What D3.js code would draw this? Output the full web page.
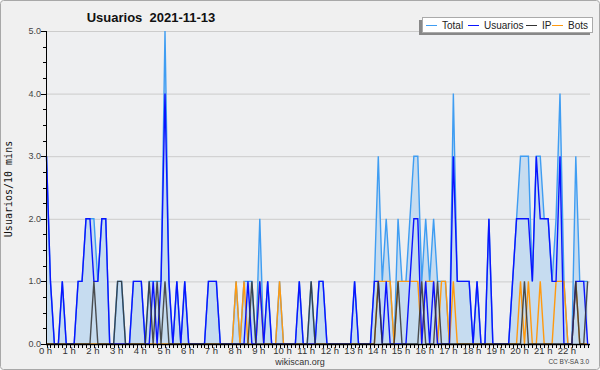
<!DOCTYPE html>
<html><head><meta charset="utf-8">
<script src="https://cdn.jsdelivr.net/npm/d3@7"></script>
<style>body{margin:0;background:#fff}svg{display:block}</style>
</head><body>
<svg id="c" width="600" height="370"></svg>
<script>
// 10-minute slots from 0:00 onwards
const total = [
  3,1,0,0,1,0,0,0,1,1, 2,2,2,1,2,2,0,0,1,1, 0,0,1,1,1,0,1,1,1,1, 5,1,0,1,0,1,0,0,0,0,
  0,1,1,1,0,0,0,0,1,0, 1,1,1,0,2,0,1,0,0,1, 0,0,0,0,1,0,0,1,0,1, 1,0,0,0,0,0,0,0,1,0,
  0,0,0,1,3,1,2,1,0,2, 1,1,2,3,3,1,2,1,2,1, 1,1,0,4,1,1,1,1,0,1, 0,0,2,0,0,0,0,0,1,2,
  3,3,3,1,3,3,2,2,1,2, 4,1,0,0,3,1,1,1];
const usuarios = [
  3,1,0,0,1,0,0,0,1,1, 2,2,1,1,2,2,0,0,0,0, 0,0,1,1,1,0,0,1,0,1, 4,1,0,1,0,1,0,0,0,0,
  0,1,1,1,0,0,0,0,0,0, 0,1,0,0,1,0,1,0,0,0, 0,0,0,0,1,0,0,0,0,1, 1,0,0,0,0,0,0,0,1,0,
  0,0,0,1,1,0,1,0,0,0, 0,0,1,2,2,0,1,0,1,0, 0,0,0,3,1,1,1,1,0,1, 0,0,2,0,0,0,0,0,1,2,
  2,2,2,1,3,2,2,2,1,1, 3,0,0,0,1,1,1,0];
const ip = [
  0,0,0,0,0,0,0,0,0,0, 0,0,1,0,0,0,0,0,1,1, 0,0,0,0,0,0,1,0,1,0, 1,0,0,0,0,0,0,0,0,0,
  0,0,0,0,0,0,0,0,0,0, 0,0,1,0,0,0,0,0,0,0, 0,0,0,0,0,0,0,1,0,0, 0,0,0,0,0,0,0,0,0,0,
  0,0,0,0,1,0,0,0,0,1, 0,0,0,0,0,1,0,0,0,1, 0,0,0,0,0,0,0,0,0,0, 0,0,0,0,0,0,0,0,0,0,
  0,1,0,0,0,0,0,0,0,0, 0,0,0,0,1,0,0,1];
const bots = [
  0,0,0,0,0,0,0,0,0,0, 0,0,0,0,0,0,0,0,0,0, 0,0,0,0,0,0,0,0,0,0, 0,0,0,0,0,0,0,0,0,0,
  0,0,0,0,0,0,0,0,1,0, 1,0,0,0,1,0,0,0,0,1, 0,0,0,0,0,0,0,0,0,0, 0,0,0,0,0,0,0,0,0,0,
  0,0,0,0,1,1,1,1,0,1, 1,1,1,1,1,0,1,1,1,0, 1,1,0,1,0,0,0,0,0,0, 0,0,0,0,0,0,0,0,0,0,
  1,0,1,0,0,1,0,0,0,1, 1,1,0,0,1,0,0,0];
const hourLabels = ["0 h","1 h","2 h","3 h","4 h","5 h","6 h","7 h","8 h","9 h","10 h","11 h","12 h","13 h","14 h","15 h","16 h","17 h","18 h","19 h","20 h","21 h","22 h"];
const yTicks = [0,1,2,3,4,5];
const seriesNames = ["Total","Usuarios","IP","Bots"];
const seriesColors = ["#3f9df2","#0a14ff","#333333","#ff9a10"];

const svg = d3.select("#c");
const W=600,H=370, L=46, R=590, T=31, B=344;
const SANS = "Liberation Sans, Arial, sans-serif";
svg.append("rect").attr("x",0.5).attr("y",0.5).attr("width",W-1).attr("height",H-1).attr("rx",3)
  .attr("fill","#f0f0f0").attr("stroke","#a8a8a8");
svg.append("rect").attr("x",L).attr("y",T).attr("width",R-L).attr("height",B-T).attr("fill","#eeeff1");

const n = total.length;
const step = 3.95; // px per 10-minute slot
const x = d3.scaleLinear().domain([0,n-1]).range([L+0.5, L+0.5+(n-1)*step]);
const y = d3.scaleLinear().domain([0,5]).range([B,T]);

// grid
svg.append("g").selectAll("line").data(yTicks.filter(d=>d>0)).join("line")
  .attr("x1",L).attr("x2",R).attr("y1",d=>y(d)+0.5).attr("y2",d=>y(d)+0.5)
  .attr("stroke","#cccccc").attr("stroke-width",1);

// area under total
const idx = d3.range(n);
svg.append("path").datum(idx)
  .attr("d", d3.area().x(i=>x(i)).y0(B).y1(i=>y(total[i])))
  .attr("fill","#c6dcf0");

const line = arr => d3.line().x(i=>x(i)).y(i=>y(arr[i]))(idx);
const draw = [[total,0],[bots,3],[usuarios,1],[ip,2]];
draw.forEach(([arr,k])=>{
  svg.append("path").attr("d",line(arr)).attr("fill","none")
    .attr("stroke",seriesColors[k]).attr("stroke-width",1.4).attr("stroke-linejoin","miter")
    .attr("stroke-opacity", k===2?0.85:1);
});

// axes
const gy = svg.append("g").attr("transform",`translate(${L},0)`);
gy.selectAll("line.t").data(d3.range(0,5.001,0.25)).join("line")
  .attr("x1",d=>Number.isInteger(d)?-5:-3).attr("x2",0)
  .attr("y1",d=>Math.round(y(d))+0.5).attr("y2",d=>Math.round(y(d))+0.5).attr("stroke","#000");
gy.selectAll("text").data(yTicks).join("text")
  .attr("x",-5).attr("y",d=>y(d)+3).attr("text-anchor","end")
  .attr("font-family",SANS).attr("font-size",9).attr("fill","#444")
  .text(d=>d.toFixed(1));
gy.append("line").attr("x1",0.5).attr("x2",0.5).attr("y1",T).attr("y2",B).attr("stroke","#000");

const gx = svg.append("g");
gx.selectAll("line").data(idx).join("line")
  .attr("x1",i=>Math.round(x(i))+0.5).attr("x2",i=>Math.round(x(i))+0.5)
  .attr("y1",B).attr("y2",B+4).attr("stroke","#000");
gx.append("line").attr("x1",L).attr("x2",R).attr("y1",B+0.5).attr("y2",B+0.5).attr("stroke","#000").attr("stroke-width",1.6);
gx.selectAll("text").data(hourLabels).join("text")
  .attr("x",(d,h)=>x(h*6)-1).attr("y",354).attr("text-anchor","middle")
  .attr("font-family",SANS).attr("font-size",9.5).attr("fill","#333")
  .text(d=>d);

// titles
svg.append("text").attr("x",151).attr("y",22).attr("text-anchor","middle")
  .attr("font-family",SANS).attr("font-weight","bold").attr("font-size",13).attr("fill","#111")
  .attr("xml:space","preserve").text("Usuarios  2021-11-13");
svg.append("text").attr("transform","translate(12,189) rotate(-90)").attr("text-anchor","middle")
  .attr("font-family","DejaVu Sans Mono").attr("font-size",10).attr("fill","#111").text("Usuarios/10 mins");
svg.append("text").attr("x",300).attr("y",365).attr("text-anchor","middle")
  .attr("font-family",SANS).attr("font-size",9).attr("fill","#333").text("wikiscan.org");
svg.append("text").attr("x",589).attr("y",364).attr("text-anchor","end")
  .attr("font-family",SANS).attr("font-size",6.5).attr("fill","#444").text("CC BY-SA 3.0");

// legend
const lg = svg.append("g");
lg.append("rect").attr("x",419).attr("y",20).attr("width",171).attr("height",15).attr("fill","#888");
lg.append("rect").attr("x",422.5).attr("y",17.5).attr("width",170).attr("height",15).attr("fill","#fff").attr("stroke","#aaa");
const lx = [426,468,526,552];
seriesNames.forEach((s,k)=>{
  lg.append("line").attr("x1",lx[k]).attr("x2",lx[k]+11).attr("y1",25.5).attr("y2",25.5).attr("stroke",seriesColors[k]);
  lg.append("text").attr("x",lx[k]+16).attr("y",29).attr("font-family",SANS).attr("font-size",10).attr("fill","#222").text(s);
});
</script>
</body></html>
